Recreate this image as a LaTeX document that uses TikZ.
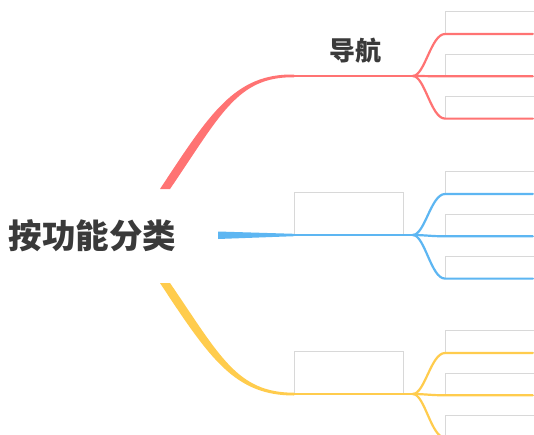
\documentclass[tikz,border=0pt]{standalone}
\usepackage{fontspec}
\newfontfamily\cjk{Noto Sans CJK SC}
\usetikzlibrary{positioning,calc}
\definecolor{rama1}{HTML}{FF7373}
\definecolor{rama2}{HTML}{5DB6F2}
\definecolor{rama3}{HTML}{FFCC4D}
\definecolor{borde}{HTML}{D8D8D8}
\definecolor{texto}{HTML}{3A3A3A}

\begin{document}
\begin{tikzpicture}[x=1pt,y=-1pt]
\tikzset{
    tema/.style={rectangle, draw=borde, line width=0.8pt, minimum width=109pt,
                 minimum height=42pt, inner sep=0pt, anchor=south west},
    hoja/.style={rectangle, draw=borde, line width=0.8pt, minimum width=95pt,
                 minimum height=22pt, inner sep=0pt},
    linea/.style={line width=2.2pt, line cap=round},
    raiz/.style={text=texto, inner sep=0pt, font=\cjk\bfseries\fontsize{33.5}{40}\selectfont},
    rotulo/.style={text=texto, inner sep=0pt, font=\cjk\bfseries\fontsize{26}{30}\selectfont}
}
\useasboundingbox (0,0) rectangle (534,434);
\fill[white] (0,0) rectangle (534,434);

% tema central
\node[raiz] (raiz) at (92.5,236) {按功能分类};

% temas
\node[tema, draw=none] (t1) at (294,76) {};
\node[rotulo] (nav) at ($(t1.center)+(7,-3.5)$) {导航};
\node[tema] (t2) at (294,235) {};
\node[tema] (t3) at (294,394) {};

% hojas
\node[hoja, anchor=south west] (h11) at (445,34) {};
\node[hoja, below=19.5pt of h11] (h12) {};
\node[hoja, below=19.5pt of h12] (h13) {};
\node[hoja, anchor=south west] (h21) at (445,194) {};
\node[hoja, below=19.5pt of h21] (h22) {};
\node[hoja, below=19.5pt of h22] (h23) {};
\node[hoja, anchor=south west] (h31) at (445,353) {};
\node[hoja, below=19.5pt of h31] (h32) {};
\node[hoja, below=19.5pt of h32] (h33) {};

% ramas desde la raiz
\coordinate (r1) at (160,189);
\coordinate (r1b) at (170,189);
\coordinate (r2) at (218,231.5);
\coordinate (r2b) at (218,239);
\coordinate (r3) at (160,283);
\coordinate (r3b) at (170,283);
\fill[rama1] (r1) .. controls (210,113) and (235,73.5) .. ($(t1.south west)+(0,-1.5)$)
    -- ($(t1.south west)+(0,1.3)$) .. controls (237,76.3) and (220,116) .. (r1b) -- cycle;
\fill[rama2] (r2) -- ($(t2.south west)+(0,-1.2)$) -- ($(t2.south west)+(0,1.2)$) -- (r2b) -- cycle;
\fill[rama3] (r3) .. controls (210,359) and (235,395.5) .. ($(t3.south west)+(0,1.5)$)
    -- ($(t3.south west)+(0,-1.3)$) .. controls (237,392.7) and (220,356) .. (r3b) -- cycle;

% lineas de los temas y bifurcaciones
\foreach \t/\c in {1/rama1, 2/rama2, 3/rama3} {
    \draw[linea, \c] (t\t.south west) -- (t\t.south east) -- ++(9,0) coordinate (f\t);
    \foreach \h in {1,2,3} {
        \draw[linea, \c] (f\t) .. controls +(12,0) and +(-14,0) .. (h\t\h.south west)
            -- ($(h\t\h.south east)+(-8,0)$);
    }
}

\end{tikzpicture}
\end{document}
